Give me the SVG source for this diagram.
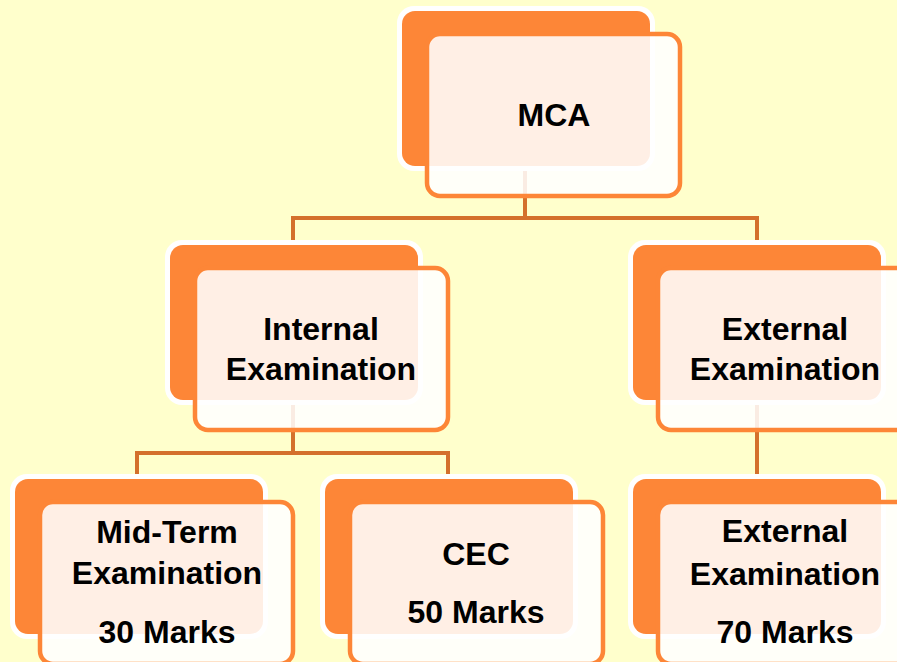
<svg xmlns="http://www.w3.org/2000/svg" width="897" height="662" viewBox="0 0 897 662">
<style>
.halo{fill:#FFFFFF}
.back{fill:#FD8637}
.front{fill:#FFFFFF;fill-opacity:0.87;stroke:#FD8637;stroke-width:4.5}
.conn{fill:none;stroke:#D4702C;stroke-width:4}
text{font-family:"Liberation Sans",Arial,sans-serif;font-weight:bold;font-size:32px;fill:#000;text-anchor:middle}
</style>
<defs>
<g id="card">
<rect class="halo" x="-5" y="-5" width="258" height="165" rx="17"/>
<rect class="back" x="0" y="0" width="248" height="155" rx="13"/>
<rect class="front" x="25" y="23" width="253" height="162" rx="13"/>
</g>
</defs>
<rect width="897" height="662" fill="#FFFFCC"/>
<g id="connectors">
<path class="conn" d="M525 166 V218 M291 218 H759 M293 218 V245 M757 218 V245"/>
<path class="conn" d="M293 400 V453 M135 453 H450 M137 453 V479 M448 453 V479"/>
<path class="conn" d="M757 400 V479"/>
</g>
<g id="mca">
<use href="#card" x="402" y="11"/>
<text x="554" y="126">MCA</text>
</g>
<g id="internal">
<use href="#card" x="170" y="245"/>
<text x="321" y="340">Internal</text>
<text x="321" y="380">Examination</text>
</g>
<g id="external">
<use href="#card" x="633" y="245"/>
<text x="785" y="340">External</text>
<text x="785" y="380">Examination</text>
</g>
<g id="midterm">
<use href="#card" x="15" y="479"/>
<text x="167" y="543">Mid-Term</text>
<text x="167" y="584">Examination</text>
<text x="167" y="643">30 Marks</text>
</g>
<g id="cec">
<use href="#card" x="325" y="479"/>
<text x="476" y="565">CEC</text>
<text x="476" y="623">50 Marks</text>
</g>
<g id="external-final">
<use href="#card" x="633" y="479"/>
<text x="785" y="542">External</text>
<text x="785" y="585">Examination</text>
<text x="785" y="643">70 Marks</text>
</g>
</svg>
